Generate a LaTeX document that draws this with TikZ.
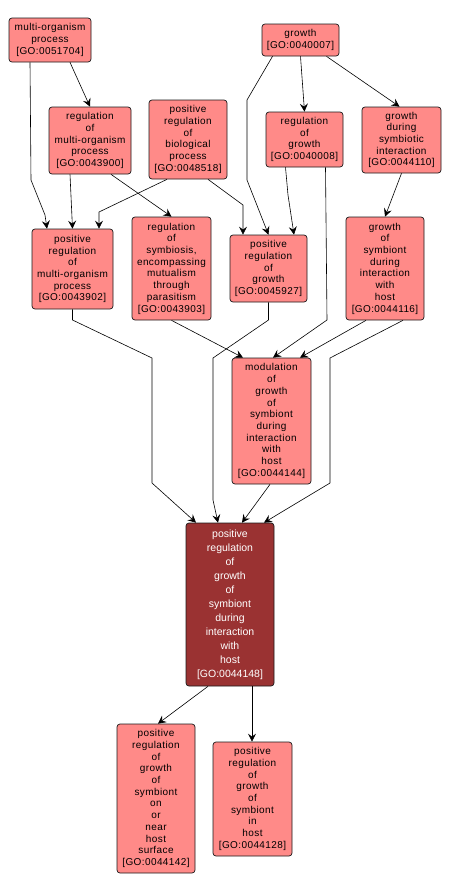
\documentclass[tikz,border=0pt]{standalone}
\usepackage{fontspec}
\newfontfamily\lab[LetterSpace=4]{Liberation Sans}
\newfontfamily\labw{Liberation Sans}
\usetikzlibrary{arrows.meta}
\definecolor{salmon}{HTML}{FF8A88}
\definecolor{darkred}{HTML}{9A3232}
\definecolor{edge}{HTML}{1A1A1A}
\tikzset{
  gobox/.style={draw=edge, line width=0.7pt, rounded corners=3pt, fill=salmon, align=center, inner sep=0pt,
    font=\lab\fontsize{10}{11.7}\selectfont, text=black},
  mainbox/.style={draw=edge, line width=0.7pt, rounded corners=3pt, fill=darkred, align=center, inner sep=0pt,
    font=\labw\fontsize{10.5}{14}\selectfont, text=white},
  conn/.style={draw=black, line width=0.6pt, -{Stealth[length=8pt,width=8pt,inset=3pt]}}
}
\begin{document}
\begin{tikzpicture}[x=1pt,y=-1pt]
\useasboundingbox[fill=white] (0,0) rectangle (450,894);
\node[gobox, minimum width=82, minimum height=44] (n1) at (50,40) {multi-organism\\process\\{[}GO:0051704{]}};
\node[gobox, minimum width=82, minimum height=67] (n2) at (90,140.5) {regulation\\of\\multi-organism\\process\\{[}GO:0043900{]}};
\node[gobox, minimum width=78, minimum height=79] (n3) at (188,139.5) {positive\\regulation\\of\\biological\\process\\{[}GO:0048518{]}};
\node[gobox, minimum width=77, minimum height=32] (n4) at (300.5,40) {growth\\{[}GO:0040007{]}};
\node[gobox, minimum width=77, minimum height=55] (n5) at (304.5,139.5) {regulation\\of\\growth\\{[}GO:0040008{]}};
\node[gobox, minimum width=79, minimum height=66] (n6) at (401.5,140) {growth\\during\\symbiotic\\interaction\\{[}GO:0044110{]}};
\node[gobox, minimum width=81, minimum height=80] (n7) at (72.5,269) {positive\\regulation\\of\\multi-organism\\process\\{[}GO:0043902{]}};
\node[gobox, minimum width=79, minimum height=103] (n8) at (171.5,268.5) {regulation\\of\\symbiosis,\\encompassing\\mutualism\\through\\parasitism\\{[}GO:0043903{]}};
\node[gobox, minimum width=77, minimum height=67] (n9) at (268.5,268.5) {positive\\regulation\\of\\growth\\{[}GO:0045927{]}};
\node[gobox, minimum width=78, minimum height=103] (n10) at (385,268.5) {growth\\of\\symbiont\\during\\interaction\\with\\host\\{[}GO:0044116{]}};
\node[gobox, minimum width=79, minimum height=126] (n11) at (271.5,421) {modulation\\of\\growth\\of\\symbiont\\during\\interaction\\with\\host\\{[}GO:0044144{]}};
\node[mainbox, minimum width=88, minimum height=163] (n12) at (230,604.5) {positive\\regulation\\of\\growth\\of\\symbiont\\during\\interaction\\with\\host\\{[}GO:0044148{]}};
\node[gobox, minimum width=78, minimum height=149] (n13) at (156,798.5) {positive\\regulation\\of\\growth\\of\\symbiont\\on\\or\\near\\host\\surface\\{[}GO:0044142{]}};
\node[gobox, minimum width=79, minimum height=114] (n14) at (252.5,799) {positive\\regulation\\of\\growth\\of\\symbiont\\in\\host\\{[}GO:0044128{]}};

\draw[conn] ([xshift=20]n1.south) -- (n2.north);
\draw[conn] ([xshift=-20]n1.south) -- (31,180) -- (45,215) -- ([xshift=-25.5]n7.north);
\draw[conn] ([xshift=-20]n2.south) -- (n7.north);
\draw[conn] ([xshift=-21]n3.south) -- (99,212) -- ([xshift=26.5]n7.north);
\draw[conn] ([xshift=21]n2.south) -- (n8.north);
\draw[conn] ([xshift=20]n3.south) -- (243,205) -- ([xshift=-25.5]n9.north);
\draw[conn] ([xshift=-28]n4.south) -- (247,100) -- (247,180) -- (n9.north);
\draw[conn] ([xshift=-19]n5.south) -- (288,195) -- ([xshift=25.5]n9.north);
\draw[conn] (n4.south) -- (n5.north);
\draw[conn] ([xshift=26]n4.south) -- ([xshift=-2]n6.north);
\draw[conn] (n6.south) -- (n10.north);
\draw[conn] ([xshift=21]n5.south) -- (327,320) -- ([xshift=1.5]n11.north);
\draw[conn] (n8.south) -- ([xshift=-28.5]n11.north);
\draw[conn] ([xshift=-19]n10.south) -- ([xshift=28.5]n11.north);
\draw[conn] ([xshift=18]n10.south) -- (330,358) -- (330,483) -- ([xshift=34]n12.north);
\draw[conn] (n9.south) -- (268.5,320) -- (213,358) -- (213,500) -- ([xshift=-12]n12.north);
\draw[conn] (n7.south) -- (72.5,320) -- (152,358) -- (152,483) -- ([xshift=-34]n12.north);
\draw[conn] ([xshift=-1.5]n11.south) -- ([xshift=12]n12.north);
\draw[conn] ([xshift=-22]n12.south) -- ([xshift=2]n13.north);
\draw[conn] ([xshift=22]n12.south) -- ([xshift=-0.5]n14.north);
\end{tikzpicture}
\end{document}
